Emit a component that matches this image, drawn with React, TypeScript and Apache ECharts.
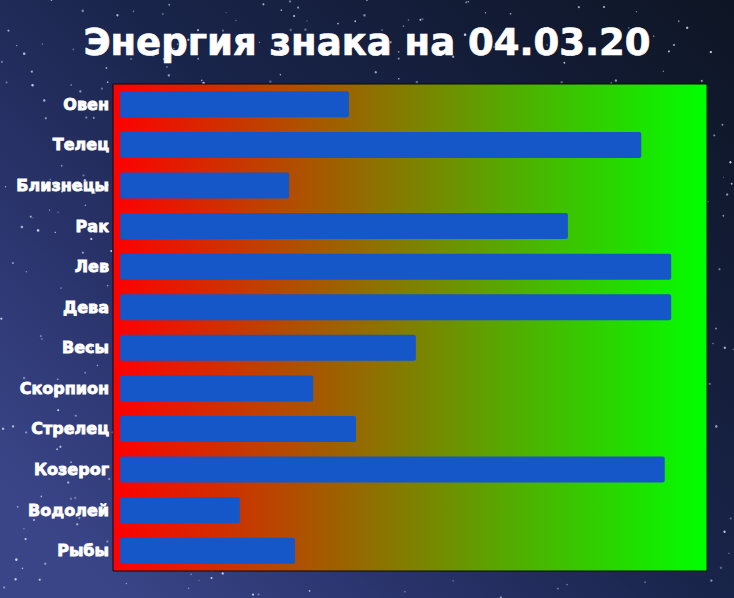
import React, { useEffect, useRef } from "react";
import * as echarts from "echarts";

const signs = [
  "Овен",
  "Телец",
  "Близнецы",
  "Рак",
  "Лев",
  "Дева",
  "Весы",
  "Скорпион",
  "Стрелец",
  "Козерог",
  "Водолей",
  "Рыбы",
];
const energy = [39, 88.8, 28.8, 76.3, 93.9, 93.9, 50.4, 32.9, 40.2, 92.8, 20.4, 29.8];

// decorative star field (seeded, fixed)
const makeStars = () => {
  let s = 12345;
  const rnd = () => {
    s = (s * 16807) % 2147483647;
    return s / 2147483647;
  };
  const out: any[] = [];
  for (let i = 0; i < 700; i++) {
    const x = rnd() * 734;
    const y = rnd() * 598;
    const r = 0.5 + rnd() * 0.8;
    const o = 0.3 + rnd() * 0.6;
    out.push({
      type: "circle",
      silent: true,
      shape: { cx: x, cy: y, r },
      style: { fill: `rgba(225,232,255,${o.toFixed(2)})` },
      z: -9,
    });
  }
  return out;
};

const App: React.FC = () => {
  const chartRef = useRef<HTMLDivElement>(null);

  useEffect(() => {
    document.body.style.margin = "0";
    if (!chartRef.current) return;
    const chart = echarts.init(chartRef.current, undefined, { renderer: "svg" });
    chart.setOption({
      animation: false,
      backgroundColor: new echarts.graphic.LinearGradient(0, 0.8, 1, 0, [
        { offset: 0, color: "#3a4588" },
        { offset: 0.2, color: "#2c3670" },
        { offset: 0.5, color: "#19244a" },
        { offset: 1, color: "#0e1524" },
      ]),
      title: {
        text: "Энергия знака на 04.03.20",
        left: "center",
        top: 19,
        textStyle: {
          color: "#ffffff",
          fontFamily: "DejaVu Sans",
          fontWeight: "bold",
          fontSize: 37,
          textBorderColor: "#ffffff",
          textBorderWidth: 0.7,
        },
      },
      graphic: makeStars(),
      grid: {
        left: 113,
        right: 27,
        top: 84,
        bottom: 27,
        show: true,
        borderColor: "#0a0a0a",
        borderWidth: 1,
        backgroundColor: new echarts.graphic.LinearGradient(0, 0, 1, 0, [
          { offset: 0, color: "#ff0000" },
          { offset: 1, color: "#00ff00" },
        ]),
      },
      xAxis: {
        type: "value",
        min: -1.2,
        max: 100,
        show: false,
      },
      yAxis: {
        type: "category",
        data: signs,
        inverse: true,
        axisLine: { show: false },
        axisTick: { show: false },
        axisLabel: {
          color: "#ffffff",
          fontFamily: "DejaVu Sans",
          fontWeight: "bold",
          fontSize: 16,
          textBorderColor: "#ffffff",
          textBorderWidth: 0.8,
          margin: 4,
        },
      },
      series: [
        {
          type: "bar",
          data: energy,
          barWidth: 26,
          itemStyle: { color: "#1556c9", borderRadius: 2 },
        },
      ],
    });
    return () => chart.dispose();
  }, []);

  return (
    <div
      ref={chartRef}
      style={{ position: "absolute", left: 0, top: 0, width: "734px", height: "598px" }}
    ></div>
  );
};

export default App;
